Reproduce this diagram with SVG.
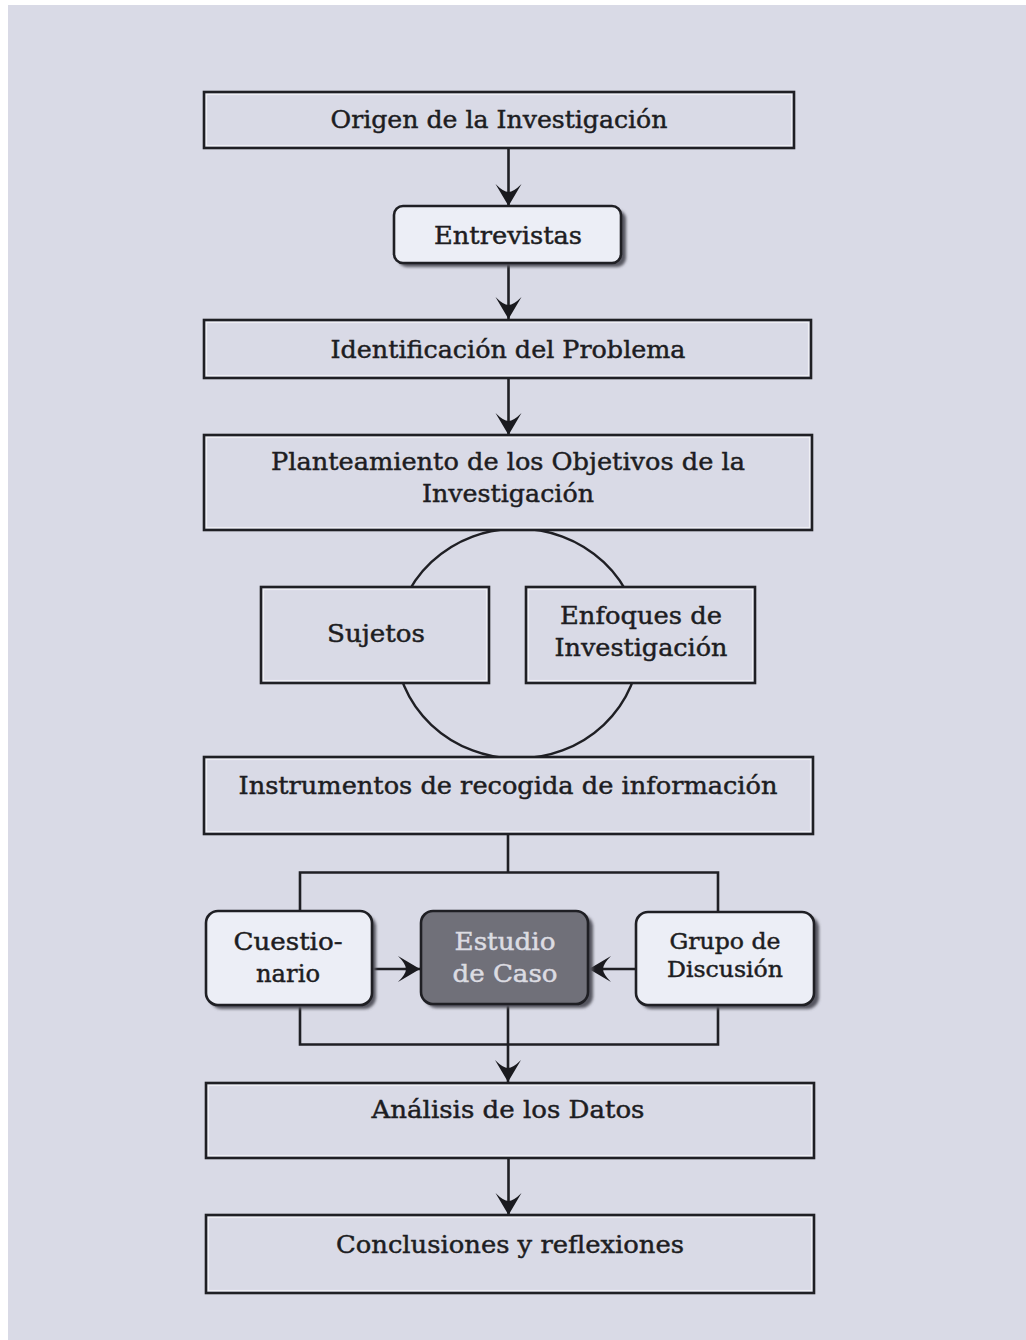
<svg xmlns="http://www.w3.org/2000/svg" width="1026" height="1340" viewBox="0 0 1026 1340">
<style>
.box{fill:#d9dae6;stroke:#1f1f24;stroke-width:2.6}
.hl{fill:none;stroke:#f4f4f8;stroke-width:1.2;opacity:.8}
.rbox{fill:#eceef6;stroke:#1f1f24;stroke-width:2.6}
.dbox{fill:#707079;stroke:#1f1f24;stroke-width:2.6}
.sh{fill:#55555e;filter:url(#blur)}
.t{font-family:"DejaVu Serif","Liberation Serif",serif;font-size:24px;fill:#1d1d22;text-anchor:middle;stroke:#1d1d22;stroke-width:0.45}
.tl{fill:#dcdce2;stroke:#dcdce2}
.sm{font-size:22px}
.ln{fill:none;stroke:#1f1f24;stroke-width:2.6}
</style>
<defs>
<filter id="blur" x="-10%" y="-10%" width="130%" height="130%"><feGaussianBlur stdDeviation="1.6"/></filter>
<marker id="ah" markerUnits="userSpaceOnUse" viewBox="-23 -14 24 28" refX="0" refY="0" markerWidth="24" markerHeight="28" orient="auto">
<path d="M0,0 L-22,-13 Q-14,-5 -14,0 Q-14,5 -22,13 Z" fill="#1a1a1f"/>
</marker>
</defs>
<rect x="0" y="0" width="1026" height="1340" fill="#ffffff"/>
<rect x="8" y="5" width="1018" height="1335" fill="#d9dae6"/>

<g id="circle-grp">
<ellipse cx="517.5" cy="643.5" rx="122" ry="115" fill="none" stroke="#1f1f24" stroke-width="2.4"/>
</g>

<g id="connectors">
<line class="ln" x1="508.5" y1="148" x2="508.5" y2="206" marker-end="url(#ah)"/>
<line class="ln" x1="508.5" y1="263" x2="508.5" y2="319" marker-end="url(#ah)"/>
<line class="ln" x1="508.5" y1="378" x2="508.5" y2="435" marker-end="url(#ah)"/>
<polyline class="ln" points="508,835 508,872.5"/>
<polyline class="ln" points="300,911 300,872.5 718,872.5 718,912"/>
<polyline class="ln" points="300,1005 300,1044.5 718,1044.5 718,1005"/>
<line class="ln" x1="372" y1="969" x2="420" y2="969" marker-end="url(#ah)"/>
<line class="ln" x1="635" y1="969" x2="589" y2="969" marker-end="url(#ah)"/>
<line class="ln" x1="508" y1="1004" x2="508" y2="1082" marker-end="url(#ah)"/>
<line class="ln" x1="508.5" y1="1158" x2="508.5" y2="1215" marker-end="url(#ah)"/>
</g>

<g id="origen">
<rect class="box" x="204" y="92" width="590" height="56"/>
<rect class="hl" x="206.5" y="94.5" width="585" height="51"/>
<text class="t" x="499" y="128" textLength="337" lengthAdjust="spacingAndGlyphs">Origen de la Investigación</text>
</g>

<g id="entrevistas">
<rect class="sh" x="398" y="210" width="228" height="57" rx="9"/>
<rect class="rbox" x="394" y="206" width="227" height="57" rx="9"/>
<text class="t" x="508" y="244" textLength="148" lengthAdjust="spacingAndGlyphs">Entrevistas</text>
</g>

<g id="identificacion">
<rect class="box" x="204" y="320" width="607" height="58"/>
<rect class="hl" x="206.5" y="322.5" width="602" height="53"/>
<text class="t" x="508" y="358" textLength="355" lengthAdjust="spacingAndGlyphs">Identificación del Problema</text>
</g>

<g id="planteamiento">
<rect class="box" x="204" y="435" width="608" height="95"/>
<rect class="hl" x="206.5" y="437.5" width="603" height="90"/>
<text class="t" x="508" y="470" textLength="474" lengthAdjust="spacingAndGlyphs">Planteamiento de los Objetivos de la</text>
<text class="t" x="508" y="502" textLength="172" lengthAdjust="spacingAndGlyphs">Investigación</text>
</g>

<g id="sujetos">
<rect class="box" x="261" y="587" width="228" height="96"/>
<rect class="hl" x="263.5" y="589.5" width="223" height="91"/>
<text class="t" x="376" y="642" textLength="98" lengthAdjust="spacingAndGlyphs">Sujetos</text>
</g>

<g id="enfoques">
<rect class="box" x="526" y="587" width="229" height="96"/>
<rect class="hl" x="528.5" y="589.5" width="224" height="91"/>
<text class="t" x="641" y="624" textLength="162" lengthAdjust="spacingAndGlyphs">Enfoques de</text>
<text class="t" x="641" y="656" textLength="173" lengthAdjust="spacingAndGlyphs">Investigación</text>
</g>

<g id="instrumentos">
<rect class="box" x="204" y="757" width="609" height="77"/>
<rect class="hl" x="206.5" y="759.5" width="604" height="72"/>
<text class="t" x="508" y="794" textLength="539" lengthAdjust="spacingAndGlyphs">Instrumentos de recogida de información</text>
</g>

<g id="cuestionario">
<rect class="sh" x="210" y="915" width="166" height="94" rx="12"/>
<rect class="rbox" x="206" y="911" width="166" height="94" rx="12"/>
<text class="t" x="288" y="950" textLength="109" lengthAdjust="spacingAndGlyphs">Cuestio-</text>
<text class="t" x="288" y="982" textLength="64" lengthAdjust="spacingAndGlyphs">nario</text>
</g>

<g id="estudio">
<rect class="sh" x="425" y="915" width="168" height="93" rx="12"/>
<rect class="dbox" x="421" y="911" width="167" height="93" rx="12"/>
<text class="t tl" x="505" y="950" textLength="101" lengthAdjust="spacingAndGlyphs">Estudio</text>
<text class="t tl" x="505" y="982" textLength="105" lengthAdjust="spacingAndGlyphs">de Caso</text>
</g>

<g id="grupo">
<rect class="sh" x="640" y="916" width="179" height="93" rx="12"/>
<rect class="rbox" x="636" y="912" width="178" height="93" rx="12"/>
<text class="t sm" x="725" y="949" textLength="111" lengthAdjust="spacingAndGlyphs">Grupo de</text>
<text class="t sm" x="725" y="977" textLength="116" lengthAdjust="spacingAndGlyphs">Discusión</text>
</g>

<g id="analisis">
<rect class="box" x="206" y="1083" width="608" height="75"/>
<rect class="hl" x="208.5" y="1085.5" width="603" height="70"/>
<text class="t" x="508" y="1118" textLength="273" lengthAdjust="spacingAndGlyphs">Análisis de los Datos</text>
</g>

<g id="conclusiones">
<rect class="box" x="206" y="1215" width="608" height="78"/>
<rect class="hl" x="208.5" y="1217.5" width="603" height="73"/>
<text class="t" x="510" y="1253" textLength="348" lengthAdjust="spacingAndGlyphs">Conclusiones y reflexiones</text>
</g>
</svg>
